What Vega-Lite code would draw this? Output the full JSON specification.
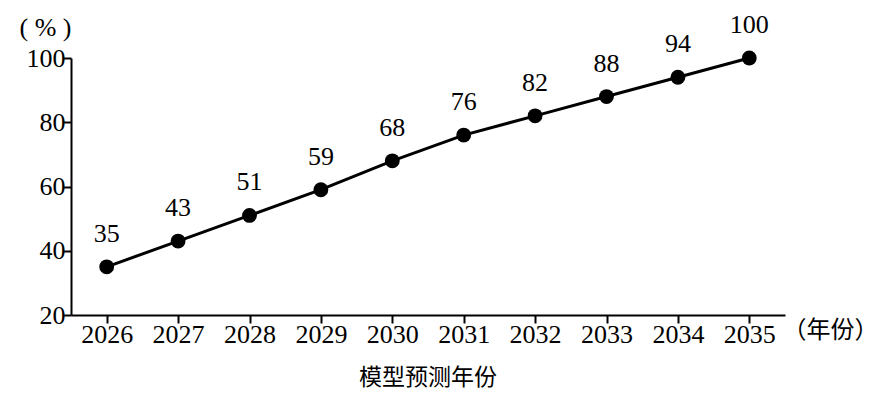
{
  "$schema": "https://vega.github.io/schema/vega-lite/v6.json",
  "width": 714,
  "height": 257,
  "autosize": {"type": "none"},
  "padding": {"left": 71, "top": 58, "right": 97, "bottom": 79},
  "background": "white",
  "config": {
    "view": {"stroke": null},
    "font": "'Liberation Serif', serif",
    "axis": {"grid": false, "domainColor": "black", "domainWidth": 2, "tickColor": "black", "tickWidth": 2, "labelColor": "black", "titleColor": "black", "labelFont": "'Liberation Serif', serif", "labelFontSize": 26, "titleFontWeight": "normal"}
  },
  "title": {"text": "模型预测年份", "orient": "bottom", "font": "Noto Sans CJK SC", "fontSize": 23, "fontWeight": "normal", "color": "black", "offset": 20},
  "data": {"values": [
    {"year": "2026", "value": 35},
    {"year": "2027", "value": 43},
    {"year": "2028", "value": 51},
    {"year": "2029", "value": 59},
    {"year": "2030", "value": 68},
    {"year": "2031", "value": 76},
    {"year": "2032", "value": 82},
    {"year": "2033", "value": 88},
    {"year": "2034", "value": 94},
    {"year": "2035", "value": 100}
  ]},
  "encoding": {
    "x": {"field": "year", "type": "ordinal", "scale": {"type": "point", "padding": 0.5},
      "axis": {"orient": "bottom", "labelAngle": 0, "tickSize": 8, "labelPadding": -2, "title": "（年份）", "titleFont": "'Liberation Serif', 'Noto Sans CJK SC'", "titleFontSize": 24, "titleX": 711, "titleY": 15, "titleAlign": "left", "titleBaseline": "middle",
        "encode": {"ticks": {"update": {"y2": {"value": -8}}}}}},
    "y": {"field": "value", "type": "quantitative", "scale": {"domain": [20, 100], "nice": false, "zero": false},
      "axis": {"orient": "left", "values": [20, 40, 60, 80, 100], "tickSize": 8, "labelPadding": -2, "title": "( % )", "titleFont": "'Liberation Serif', serif", "titleFontSize": 26, "titleAngle": 0, "titleX": -26, "titleY": -31, "titleAlign": "center", "titleBaseline": "middle",
        "encode": {"ticks": {"update": {"x2": {"value": 8}}}}}}
  },
  "layer": [
    {"mark": {"type": "line", "color": "black", "strokeWidth": 3}},
    {"mark": {"type": "point", "filled": true, "color": "black", "opacity": 1, "size": 220}},
    {"mark": {"type": "text", "dy": -33, "fontSize": 26, "color": "black", "font": "'Liberation Serif', serif"}, "encoding": {"text": {"field": "value", "type": "quantitative"}}}
  ]
}
